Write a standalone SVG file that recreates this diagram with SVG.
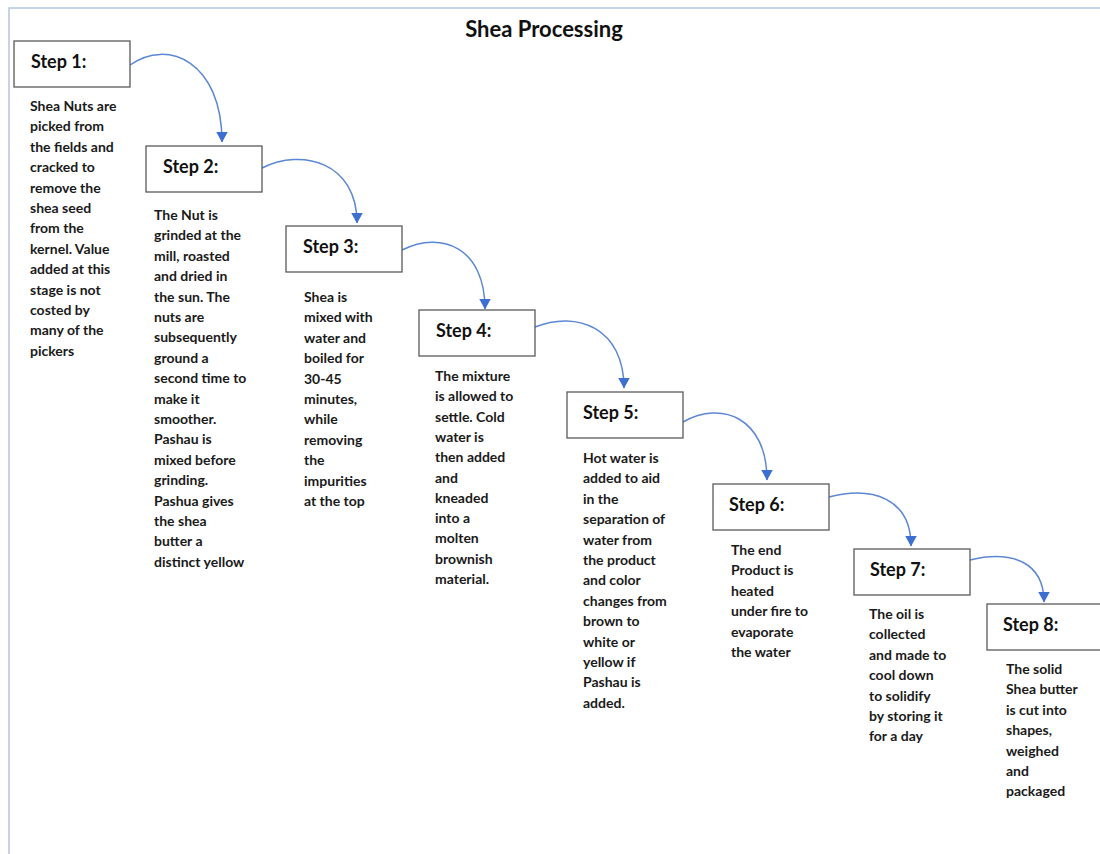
<svg xmlns="http://www.w3.org/2000/svg" width="1100" height="854" viewBox="0 0 1100 854">
  <style>
    .frame { fill: none; stroke: #b3c5dd; stroke-width: 1.5; }
    .title { font-family: Lato, "Open Sans", sans-serif; font-weight: 700; font-size: 22px; fill: #111; }
    .box { fill: #fff; stroke: #5a5a5a; stroke-width: 1.3; }
    .label { font-family: Lato, "Open Sans", sans-serif; font-weight: 700; font-size: 18px; fill: #111; }
    .desc { font-family: Lato, "Open Sans", sans-serif; font-weight: 700; font-size: 14px; fill: #1a1a1a; }
    .link { fill: none; stroke: #5b87d3; stroke-width: 1.5; marker-end: url(#head); }
  </style>
  <defs>
    <marker id="head" viewBox="0 0 11 12" refX="10.5" refY="6" markerUnits="userSpaceOnUse" markerWidth="11" markerHeight="12" orient="auto">
      <path d="M0,0 L11,6 L0,12 Z" fill="#3d6fd0"/>
    </marker>
  </defs>
  <rect width="1100" height="854" fill="#fff"/>
  <path class="frame" d="M9,854 V8 H1100"/>
  <text class="title" x="544" y="37" text-anchor="middle">Shea Processing</text>

  <g id="connectors">
    <path class="link" d="M130,65 C168,38 222,62 222,142"/>
    <path class="link" d="M262,168 C302,148 357,162 357,223"/>
    <path class="link" d="M402,250 C442,230 485,248 485,309"/>
    <path class="link" d="M535,327 C577,310 624,328 624,388"/>
    <path class="link" d="M683,422 C722,400 767,418 767,480"/>
    <path class="link" d="M829,497 C872,486 911,498 911,546"/>
    <path class="link" d="M970,560 C1012,550 1044,562 1044,602"/>
  </g>

  <g id="step1">
    <rect class="box" x="14" y="41" width="116" height="46"/>
    <text class="label" x="31" y="68">Step 1:</text>
    <text class="desc" x="30" y="111">
      <tspan x="30" dy="0">Shea Nuts are</tspan>
      <tspan x="30" dy="20.4">picked from</tspan>
      <tspan x="30" dy="20.4">the fields and</tspan>
      <tspan x="30" dy="20.4">cracked to</tspan>
      <tspan x="30" dy="20.4">remove the</tspan>
      <tspan x="30" dy="20.4">shea seed</tspan>
      <tspan x="30" dy="20.4">from the</tspan>
      <tspan x="30" dy="20.4">kernel. Value</tspan>
      <tspan x="30" dy="20.4">added at this</tspan>
      <tspan x="30" dy="20.4">stage is not</tspan>
      <tspan x="30" dy="20.4">costed by</tspan>
      <tspan x="30" dy="20.4">many of the</tspan>
      <tspan x="30" dy="20.4">pickers</tspan>
    </text>
  </g>

  <g id="step2">
    <rect class="box" x="146" y="146" width="116" height="46"/>
    <text class="label" x="163" y="173">Step 2:</text>
    <text class="desc" x="154" y="220">
      <tspan x="154" dy="0">The Nut is</tspan>
      <tspan x="154" dy="20.4">grinded at the</tspan>
      <tspan x="154" dy="20.4">mill, roasted</tspan>
      <tspan x="154" dy="20.4">and dried in</tspan>
      <tspan x="154" dy="20.4">the sun. The</tspan>
      <tspan x="154" dy="20.4">nuts are</tspan>
      <tspan x="154" dy="20.4">subsequently</tspan>
      <tspan x="154" dy="20.4">ground a</tspan>
      <tspan x="154" dy="20.4">second time to</tspan>
      <tspan x="154" dy="20.4">make it</tspan>
      <tspan x="154" dy="20.4">smoother.</tspan>
      <tspan x="154" dy="20.4">Pashau is</tspan>
      <tspan x="154" dy="20.4">mixed before</tspan>
      <tspan x="154" dy="20.4">grinding.</tspan>
      <tspan x="154" dy="20.4">Pashua gives</tspan>
      <tspan x="154" dy="20.4">the shea</tspan>
      <tspan x="154" dy="20.4">butter a</tspan>
      <tspan x="154" dy="20.4">distinct yellow</tspan>
    </text>
  </g>

  <g id="step3">
    <rect class="box" x="286" y="226" width="116" height="46"/>
    <text class="label" x="303" y="253">Step 3:</text>
    <text class="desc" x="304" y="302">
      <tspan x="304" dy="0">Shea is</tspan>
      <tspan x="304" dy="20.4">mixed with</tspan>
      <tspan x="304" dy="20.4">water and</tspan>
      <tspan x="304" dy="20.4">boiled for</tspan>
      <tspan x="304" dy="20.4">30-45</tspan>
      <tspan x="304" dy="20.4">minutes,</tspan>
      <tspan x="304" dy="20.4">while</tspan>
      <tspan x="304" dy="20.4">removing</tspan>
      <tspan x="304" dy="20.4">the</tspan>
      <tspan x="304" dy="20.4">impurities</tspan>
      <tspan x="304" dy="20.4">at the top</tspan>
    </text>
  </g>

  <g id="step4">
    <rect class="box" x="419" y="310" width="116" height="46"/>
    <text class="label" x="436" y="337">Step 4:</text>
    <text class="desc" x="435" y="381">
      <tspan x="435" dy="0">The mixture</tspan>
      <tspan x="435" dy="20.3">is allowed to</tspan>
      <tspan x="435" dy="20.3">settle. Cold</tspan>
      <tspan x="435" dy="20.3">water is</tspan>
      <tspan x="435" dy="20.3">then added</tspan>
      <tspan x="435" dy="20.3">and</tspan>
      <tspan x="435" dy="20.3">kneaded</tspan>
      <tspan x="435" dy="20.3">into a</tspan>
      <tspan x="435" dy="20.3">molten</tspan>
      <tspan x="435" dy="20.3">brownish</tspan>
      <tspan x="435" dy="20.3">material.</tspan>
    </text>
  </g>

  <g id="step5">
    <rect class="box" x="567" y="392" width="116" height="46"/>
    <text class="label" x="583" y="419">Step 5:</text>
    <text class="desc" x="583" y="463">
      <tspan x="583" dy="0">Hot water is</tspan>
      <tspan x="583" dy="20.4">added to aid</tspan>
      <tspan x="583" dy="20.4">in the</tspan>
      <tspan x="583" dy="20.4">separation of</tspan>
      <tspan x="583" dy="20.4">water from</tspan>
      <tspan x="583" dy="20.4">the product</tspan>
      <tspan x="583" dy="20.4">and color</tspan>
      <tspan x="583" dy="20.4">changes from</tspan>
      <tspan x="583" dy="20.4">brown to</tspan>
      <tspan x="583" dy="20.4">white or</tspan>
      <tspan x="583" dy="20.4">yellow if</tspan>
      <tspan x="583" dy="20.4">Pashau is</tspan>
      <tspan x="583" dy="20.4">added.</tspan>
    </text>
  </g>

  <g id="step6">
    <rect class="box" x="713" y="484" width="116" height="46"/>
    <text class="label" x="729" y="511">Step 6:</text>
    <text class="desc" x="731" y="555">
      <tspan x="731" dy="0">The end</tspan>
      <tspan x="731" dy="20.4">Product is</tspan>
      <tspan x="731" dy="20.4">heated</tspan>
      <tspan x="731" dy="20.4">under fire to</tspan>
      <tspan x="731" dy="20.4">evaporate</tspan>
      <tspan x="731" dy="20.4">the water</tspan>
    </text>
  </g>

  <g id="step7">
    <rect class="box" x="854" y="549" width="116" height="46"/>
    <text class="label" x="870" y="576">Step 7:</text>
    <text class="desc" x="869" y="619">
      <tspan x="869" dy="0">The oil is</tspan>
      <tspan x="869" dy="20.4">collected</tspan>
      <tspan x="869" dy="20.4">and made to</tspan>
      <tspan x="869" dy="20.4">cool down</tspan>
      <tspan x="869" dy="20.4">to solidify</tspan>
      <tspan x="869" dy="20.4">by storing it</tspan>
      <tspan x="869" dy="20.4">for a day</tspan>
    </text>
  </g>

  <g id="step8">
    <rect class="box" x="987" y="604" width="116" height="46"/>
    <text class="label" x="1003" y="631">Step 8:</text>
    <text class="desc" x="1006" y="674">
      <tspan x="1006" dy="0">The solid</tspan>
      <tspan x="1006" dy="20.4">Shea butter</tspan>
      <tspan x="1006" dy="20.4">is cut into</tspan>
      <tspan x="1006" dy="20.4">shapes,</tspan>
      <tspan x="1006" dy="20.4">weighed</tspan>
      <tspan x="1006" dy="20.4">and</tspan>
      <tspan x="1006" dy="20.4">packaged</tspan>
    </text>
  </g>
</svg>
